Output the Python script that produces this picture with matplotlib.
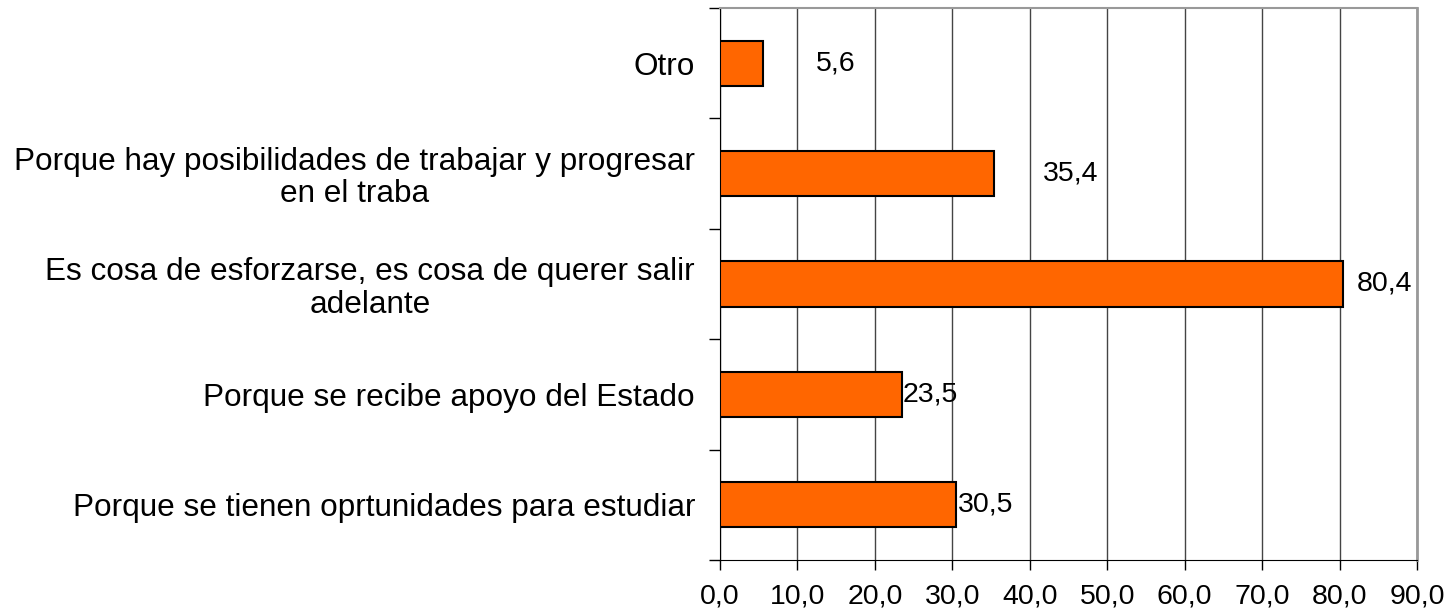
import matplotlib
matplotlib.use("Agg")
import matplotlib.pyplot as plt
import numpy as np

plt.rcParams['font.family'] = ['Liberation Sans', 'DejaVu Sans']

# data, bottom to top
categories = [
    "Porque se tienen oprtunidades para estudiar",
    "Porque se recibe apoyo del Estado",
    "Es cosa de esforzarse, es cosa de querer salir\nadelante",
    "Porque hay posibilidades de trabajar y progresar\nen el traba",
    "Otro",
]
values = [30.5, 23.5, 80.4, 35.4, 5.6]
value_labels = ["30,5", "23,5", "80,4", "35,4", "5,6"]
x_ticks = np.arange(0, 100, 10)

# gap (pixels) between bar end and its label, as placed in the original
label_gap = [2, 1, 14, 49, 52]

fig = plt.figure(figsize=(14.54, 6.12), dpi=100)
ax = fig.add_axes([0.4952, 0.085, 0.4794, 0.902])

y = np.arange(len(categories))
ax.barh(y, values, height=0.41, color='#FF6600', edgecolor='black', linewidth=1.5, zorder=3)

for yi, v, lab, gap in zip(y, values, value_labels, label_gap):
    ax.annotate(lab, xy=(v, yi), xytext=(gap, 0), textcoords='offset pixels',
                ha='left', va='center', fontsize=20.5, zorder=4)

ax.set_xlim(0, 90)
ax.set_ylim(-0.5, len(categories) - 0.5)
ax.set_xticks(x_ticks)
ax.set_xticklabels([f"{t:.1f}".replace('.', ',') for t in x_ticks], fontsize=20.5)
ax.set_yticks(y)
ax.set_yticklabels(categories, fontsize=22.7, multialignment='center', linespacing=1.1)
ax.set_yticks(np.arange(-0.5, len(categories)), minor=True)
ax.tick_params(axis='y', which='major', length=0, pad=18)
ax.tick_params(axis='y', which='minor', length=8, width=1, color='black', direction='out')
ax.tick_params(axis='x', length=7, width=1, direction='out', pad=10)

ax.grid(axis='x', color='#444444', linewidth=1, zorder=0)
ax.spines['left'].set_color('black')
ax.spines['bottom'].set_color('black')
ax.spines['top'].set_color('#999999')
ax.spines['right'].set_color('#999999')
ax.spines['right'].set_linewidth(2)
ax.spines['top'].set_linewidth(1.5)

fig.savefig("out.png", dpi=100)
